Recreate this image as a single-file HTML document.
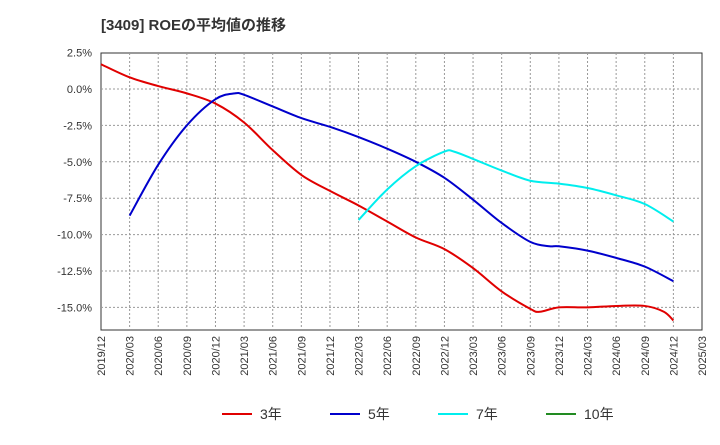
<!DOCTYPE html>
<html><head><meta charset="utf-8"><style>
body{margin:0;background:#fff;font-family:"Liberation Sans","Noto Sans CJK JP",sans-serif;}
</style></head><body>
<svg id="c" width="720" height="440" xmlns="http://www.w3.org/2000/svg">
<text x="101" y="30" font-size="15" font-weight="bold" fill="#333">[3409]  ROEの平均値の推移</text>
<rect x="101" y="53" width="601" height="277" fill="#fff" stroke="#333"/>
<g id="grid"></g><g id="series"></g><g id="legend"></g>
</svg>
<script>
const xLabels=["2019/12","2020/03","2020/06","2020/09","2020/12","2021/03","2021/06","2021/09","2021/12","2022/03","2022/06","2022/09","2022/12","2023/03","2023/06","2023/09","2023/12","2024/03","2024/06","2024/09","2024/12","2025/03"];
const yTicks=[2.5,0,-2.5,-5,-7.5,-10,-12.5,-15];
const yTickLabels=["2.5%","0.0%","-2.5%","-5.0%","-7.5%","-10.0%","-12.5%","-15.0%"];
// month offsets from 2019/12
const roe3m=[0,3,6,9,12,15,18,21,24,27,30,33,36,39,42,45,46,48,51,54,57,59,60];
const roe3=[1.7,0.8,0.2,-0.3,-1.0,-2.3,-4.2,-5.9,-7.0,-8.0,-9.1,-10.2,-11.0,-12.3,-13.9,-15.1,-15.3,-15.0,-15.0,-14.9,-14.9,-15.3,-15.9];
const roe5m=[3,6,9,12,14,15,18,21,24,27,30,33,36,39,42,45,47,48,51,54,57,60];
const roe5=[-8.7,-5.2,-2.5,-0.7,-0.3,-0.4,-1.2,-2.0,-2.6,-3.3,-4.1,-5.0,-6.1,-7.6,-9.2,-10.5,-10.8,-10.8,-11.1,-11.6,-12.2,-13.2];
const roe7m=[27,30,33,36,37,39,42,45,48,51,54,57,60];
const roe7=[-9.0,-6.9,-5.3,-4.3,-4.3,-4.8,-5.6,-6.3,-6.5,-6.8,-7.3,-7.9,-9.1];
const NS="http://www.w3.org/2000/svg";
const X=m=>101+m*(601/63), Y=v=>89-v*(36.4/2.5);
function mk(t,a,p){const e=document.createElementNS(NS,t);for(const k in a)e.setAttribute(k,a[k]);p.appendChild(e);return e;}
const g=document.getElementById('grid');
yTicks.forEach((v,i)=>{
 if(i>0){const l=mk('line',{x1:101,x2:702,y1:Y(v),y2:Y(v),stroke:'#999','stroke-dasharray':'2,2'},g);
 
 }
 const t=mk('text',{x:92,y:Y(v)+4,'text-anchor':'end','font-size':11,fill:'#333'},g);t.textContent=yTickLabels[i];
 
 
});
xLabels.forEach((s,i)=>{
 const x=X(i*3);
 if(i>0&&i<21){const l=mk('line',{x1:x,x2:x,y1:53,y2:330,stroke:'#999','stroke-dasharray':'2,2'},g);
 
 }
 const t=mk('text',{transform:`translate(${x+4},336) rotate(-90)`,'text-anchor':'end','font-size':11,fill:'#333'},g);t.textContent=s;
 
 
});
function path(ms,vs){const p=ms.map((m,i)=>[X(m),Y(vs[i])]);let d=`M${p[0][0]},${p[0][1]}`;
 for(let i=0;i<p.length-1;i++){const p0=p[i-1]||p[i],p1=p[i],p2=p[i+1],p3=p[i+2]||p2;
 d+=`C${p1[0]+(p2[0]-p0[0])/6},${p1[1]+(p2[1]-p0[1])/6} ${p2[0]-(p3[0]-p1[0])/6},${p2[1]-(p3[1]-p1[1])/6} ${p2[0]},${p2[1]}`;}return d;}
const s=document.getElementById('series');
const l3=mk('path',{d:path(roe3m,roe3),fill:'none',stroke:'#e00000','stroke-width':2},s);


const l5=mk('path',{d:path(roe5m,roe5),fill:'none',stroke:'#0000cc','stroke-width':2},s);


const l7=mk('path',{d:path(roe7m,roe7),fill:'none',stroke:'#00eeee','stroke-width':2},s);


const lg=document.getElementById('legend');
[["3年","#e00000",222],["5年","#0000cc",330],["7年","#00eeee",438],["10年","#228b22",546]].forEach(([n,c,x])=>{
 const gg=mk('g',{},lg);
 
 
 mk('line',{x1:x,x2:x+30,y1:414,y2:414,stroke:c,'stroke-width':2},gg);
 const t=mk('text',{x:x+38,y:419,'font-size':14,fill:'#333'},gg);t.textContent=n;
});
</script>
</body></html>
